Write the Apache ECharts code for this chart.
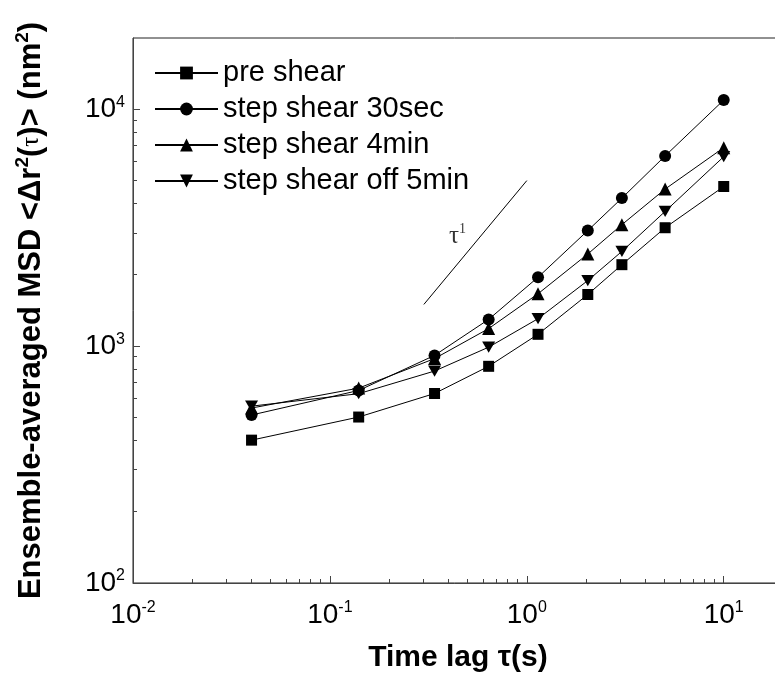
<!DOCTYPE html>
<html>
<head>
<meta charset="utf-8">
<script src="https://cdn.jsdelivr.net/npm/echarts@6/dist/echarts.min.js"></script>
<style>html,body{margin:0;padding:0;background:#fff}#c{width:775px;height:675px}</style>
</head>
<body>
<div id="c"></div>
<script>
// ---- data ----
const timeLag = [0.04, 0.14, 0.34, 0.64, 1.14, 2.04, 3.04, 5.04, 10.0];
const preShear = [401, 502, 631, 822, 1122, 1652, 2208, 3162, 4720];
const stepShear30sec = [512, 650, 914, 1297, 1954, 3076, 4217, 6355, 10940];
const stepShear4min = [548, 665, 886, 1186, 1664, 2449, 3258, 4605, 6887];
const stepShearOff5min = [558, 630, 785, 990, 1306, 1892, 2512, 3706, 6310];
const seriesNames = ['pre shear', 'step shear 30sec', 'step shear 4min', 'step shear off 5min'];
const slopeLineX = [0.3, 1.0];
const slopeLineY = [1500, 5000];
const slopeLabelPos = [0.445, 2910];
const xMinorTicks = [0.02,0.03,0.04,0.05,0.06,0.07,0.08,0.09,0.2,0.3,0.4,0.5,0.6,0.7,0.8,0.9,2,3,4,5,6,7,8,9];
const yMinorTicks = [200,300,400,500,600,700,800,900,2000,3000,4000,5000,6000,7000,8000,9000];
const xRange = [0.01, 20];
const yRange = [100, 20000];

const chart = echarts.init(document.getElementById('c'));
const pair = (xs, ys) => xs.map((x, i) => [x, ys[i]]);
const FONT = 'Liberation Sans, Arial, sans-serif';
const snap = v => Math.round(v) + 0.5;

function powLabel(v) {
  const e = Math.log10(v);
  if (Math.abs(e - Math.round(e)) > 1e-6) return '';
  return '{b|10}{s|' + Math.round(e) + '}';
}
const tickRich = {
  b: { fontSize: 28, fontFamily: FONT, color: '#000', lineHeight: 30 },
  s: { fontSize: 16, fontFamily: FONT, color: '#000', verticalAlign: 'top', lineHeight: 30 }
};

function mkSeries(name, ys, symbol, size) {
  return {
    name, type: 'line', data: pair(timeLag, ys),
    symbol, symbolSize: size, symbolKeepAspect: true,
    lineStyle: { color: '#000', width: 1 },
    itemStyle: { color: '#000' },
    z: 3
  };
}

const option = {
  animation: false,
  backgroundColor: '#fff',
  grid: { left: 133, top: 38, width: 650, bottom: 92, outerBoundsMode: 'none', containLabel: false,
          show: true, borderColor: '#222', borderWidth: 1, backgroundColor: 'transparent' },
  legend: {
    data: seriesNames,
    orient: 'vertical',
    left: 149, top: 53,
    itemWidth: 63, itemHeight: 16, itemGap: 6,
    textStyle: { fontSize: 29, fontFamily: FONT, color: '#000', lineHeight: 30 },
    selectedMode: false
  },
  xAxis: {
    type: 'log', logBase: 10, min: xRange[0], max: xRange[1],
    name: 'Time lag τ(s)', nameLocation: 'middle', nameGap: 60,
    nameTextStyle: { fontSize: 30, fontWeight: 'bold', fontFamily: FONT, color: '#000' },
    axisLine: { lineStyle: { color: '#444', width: 1 } },
    axisTick: { inside: true, length: 7, lineStyle: { color: '#444' } },
    axisLabel: { margin: 17, formatter: powLabel, rich: tickRich, showMaxLabel: false },
    splitLine: { show: false }
  },
  yAxis: {
    type: 'log', logBase: 10, min: yRange[0], max: yRange[1],
    name: '{b|Ensemble-averaged MSD <Δr}{s|2}{b|(}{t|τ}{b|)> (nm}{s|2}{b|)}',
    nameLocation: 'middle', nameGap: 84, nameRotate: 90,
    nameTextStyle: {
      rich: {
        b: { fontSize: 31, fontWeight: 'bold', fontFamily: FONT, color: '#000', lineHeight: 36 },
        s: { fontSize: 19, fontWeight: 'bold', fontFamily: FONT, color: '#000', verticalAlign: 'top', lineHeight: 36 },
        t: { fontSize: 25, fontFamily: 'Liberation Serif, serif', color: '#000', lineHeight: 36 }
      }
    },
    axisLine: { lineStyle: { color: '#444', width: 1 } },
    axisTick: { inside: true, length: 7, lineStyle: { color: '#444' } },
    axisLabel: { margin: 8, formatter: powLabel, rich: tickRich, showMaxLabel: false },
    splitLine: { show: false }
  },
  series: [
    mkSeries(seriesNames[0], preShear, 'rect', 11),
    mkSeries(seriesNames[1], stepShear30sec, 'circle', 12),
    mkSeries(seriesNames[2], stepShear4min, 'triangle', 13),
    mkSeries(seriesNames[3], stepShearOff5min, 'path://M0,0L20,0L10,17.3Z', 13),
    {
      name: 'slope', type: 'line', data: pair(slopeLineX, slopeLineY), symbol: 'none',
      lineStyle: { color: '#000', width: 1 }, silent: true
    },
    {
      name: 'slopeLabel', type: 'scatter', data: [slopeLabelPos], symbolSize: 0,
      label: {
        show: true, position: 'inside', formatter: '{t|τ}{s|1}',
        rich: {
          t: { fontSize: 25, fontFamily: 'Liberation Serif, serif', color: '#000', lineHeight: 28 },
          s: { fontSize: 14, fontFamily: 'Liberation Serif, serif', color: '#000', verticalAlign: 'top', lineHeight: 28 }
        }
      }, silent: true
    },
    {
      name: 'xMinor', type: 'custom', silent: true, clip: false, z: 10,
      data: xMinorTicks.map(v => [v, 1000]),
      renderItem: (params, api) => {
        const x = snap(api.coord([api.value(0), 1000])[0] - 0.5);
        const y = Math.round(params.coordSys.y + params.coordSys.height);
        return { type: 'line', shape: { x1: x, y1: y, x2: x, y2: y - 4 }, style: { stroke: '#444', lineWidth: 1 } };
      }
    },
    {
      name: 'yMinor', type: 'custom', silent: true, clip: false, z: 10,
      data: yMinorTicks.map(v => [1, v]),
      renderItem: (params, api) => {
        const y = snap(api.coord([1, api.value(1)])[1] - 0.5);
        const x = Math.round(params.coordSys.x);
        return { type: 'line', shape: { x1: x, y1: y, x2: x + 4, y2: y }, style: { stroke: '#444', lineWidth: 1 } };
      }
    }
  ]
};
chart.setOption(option);
</script>
</body>
</html>
